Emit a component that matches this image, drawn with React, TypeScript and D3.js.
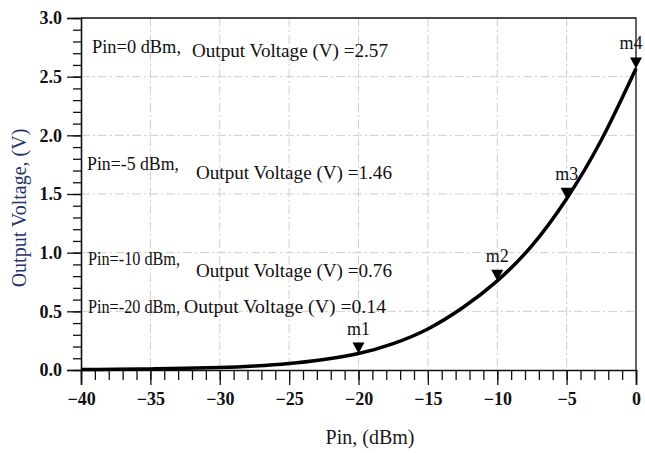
import React, { useEffect, useRef } from "react";
import * as d3 from "d3";

// curve (Pin in dBm, output voltage in V)
const pinDbm = [-40, -37.5, -35, -32.5, -30, -27.5, -25, -22.5, -20, -17.5, -15, -12.5, -10, -7.5, -5, -2.5, 0];
const voltage = [0.004, 0.006, 0.009, 0.014, 0.021, 0.034, 0.055, 0.09, 0.14, 0.225, 0.35, 0.53, 0.76, 1.06, 1.46, 1.96, 2.57];

const markerNames = ["m1", "m2", "m3", "m4"];
const markerPin = [-20, -10, -5, 0];
const markerV = [0.14, 0.76, 1.46, 2.57];

const xTicks = [-40, -35, -30, -25, -20, -15, -10, -5, 0];
const yTicks = [0, 0.5, 1, 1.5, 2, 2.5, 3];

// annotation lines: [pin part, voltage part]
const notePin = ["Pin=0 dBm,", "Pin=-5  dBm,", "Pin=-10 dBm,", "Pin=-20 dBm,"];
const noteOut = ["Output Voltage (V) =2.57", "Output Voltage (V) =1.46", "Output Voltage (V) =0.76", "Output Voltage (V) =0.14"];

const W = 645, H = 453;
const margin = { top: 18, right: 9, bottom: 83, left: 81 };
const font = "'Liberation Serif', 'Times New Roman', Times, serif";

const App = () => {
  const ref = useRef<SVGSVGElement>(null);

  useEffect(() => {
    const svg = d3.select(ref.current);
    svg.selectAll("*").remove();

    const width = W - margin.left - margin.right;
    const height = H - margin.top - margin.bottom;

    const x = d3.scaleLinear().domain([-40, 0]).range([0, width]);
    const y = d3.scaleLinear().domain([0, 3]).range([height, 0]);

    const g = svg.append("g").attr("transform", `translate(${margin.left},${margin.top})`);

    // dash-dot grid
    const grid = g.append("g").attr("stroke", "#cfcfcf").attr("stroke-width", 1).attr("stroke-dasharray", "9,3,2,3");
    grid.selectAll("line.v")
      .data(xTicks.slice(1, -1))
      .join("line")
      .attr("x1", (d) => x(d)).attr("x2", (d) => x(d))
      .attr("y1", 0).attr("y2", height);
    grid.selectAll("line.h")
      .data(yTicks.slice(1, -1))
      .join("line")
      .attr("class", "h")
      .attr("x1", 0).attr("x2", width)
      .attr("y1", (d) => y(d)).attr("y2", (d) => y(d));

    // top and right frame
    g.append("path")
      .attr("d", `M0,0H${width}V${height}`)
      .attr("fill", "none").attr("stroke", "#111").attr("stroke-width", 1.3);

    // minor ticks
    g.append("g")
      .call(d3.axisLeft(y).tickValues(d3.range(0, 3.01, 0.1)).tickSize(8).tickFormat(() => ""))
      .call((a) => a.select(".domain").remove());
    g.append("g")
      .attr("transform", `translate(0,${height})`)
      .call(d3.axisBottom(x).tickValues(d3.range(-40, 0.5, 1)).tickSize(10).tickFormat(() => ""))
      .call((a) => a.select(".domain").remove());

    // major axes
    const yAxis = g.append("g")
      .call(d3.axisLeft(y).tickValues(yTicks).tickSize(14).tickPadding(5).tickFormat(d3.format(".1f")));
    const xAxis = g.append("g")
      .attr("transform", `translate(0,${height})`)
      .call(d3.axisBottom(x).tickValues(xTicks).tickSize(15).tickPadding(7).tickFormat(d3.format("d")));

    [yAxis, xAxis].forEach((a) => {
      a.attr("font-family", null);
      a.selectAll("text")
        .style("font-family", font).attr("font-size", 18).attr("font-weight", "bold").attr("fill", "#111");
      a.select(".domain").attr("stroke", "#111").attr("stroke-width", 1.6);
    });
    g.selectAll(".tick line").attr("stroke", "#111").attr("stroke-width", 1.3);

    // curve
    const line = d3.line<number>()
      .x((_, i) => x(pinDbm[i]))
      .y((d) => y(d))
      .curve(d3.curveNatural);
    g.append("path")
      .datum(voltage)
      .attr("d", line)
      .attr("fill", "none")
      .attr("stroke", "#000")
      .attr("stroke-width", 3.5);

    // markers
    const mk = g.append("g").selectAll("g")
      .data(markerNames)
      .join("g")
      .attr("transform", (_, i) => `translate(${x(markerPin[i])},${y(markerV[i])})`);
    mk.append("path").attr("d", "M0,0L-6,-11L6,-11Z").attr("fill", "#000");
    mk.append("text")
      .attr("y", -19)
      .attr("dx", (_, i) => (i === 3 ? -5 : 0))
      .attr("text-anchor", "middle")
      .style("font-family", font)
      .attr("font-size", 18)
      .attr("fill", "#111")
      .text((d) => d);

    // annotations
    const pinX = [92, 87, 88, 88];
    const pinY = [53, 170, 265, 313];
    const pinLen = [89, 92, 92, 92];
    const outX = [192, 196, 196, 184];
    const outY = [57, 179, 277, 313];
    notePin.forEach((t, i) => {
      svg.append("text")
        .attr("x", pinX[i]).attr("y", pinY[i])
        .style("font-family", font).attr("font-size", 18).attr("fill", "#111")
        .attr("textLength", pinLen[i]).attr("lengthAdjust", "spacingAndGlyphs")
        .text(t);
      svg.append("text")
        .attr("x", outX[i]).attr("y", outY[i])
        .style("font-family", font).attr("font-size", 19).attr("fill", "#111")
        .attr("textLength", i === 3 ? 202 : 196).attr("lengthAdjust", "spacingAndGlyphs")
        .text(noteOut[i]);
    });

    // axis titles
    svg.append("text")
      .attr("transform", "translate(26,208) rotate(-90)")
      .attr("text-anchor", "middle")
      .style("font-family", font).attr("font-size", 20).attr("fill", "#1f3366")
      .text("Output Voltage, (V)");
    svg.append("text")
      .attr("x", 370).attr("y", 444)
      .attr("text-anchor", "middle")
      .style("font-family", font).attr("font-size", 20).attr("fill", "#1a1a1a")
      .text("Pin, (dBm)");
  }, []);

  return (
    <svg ref={ref} width={W} height={H}
      style={{ position: "absolute", left: 0, top: 0, background: "#fff" }} />
  );
};

export default App;
